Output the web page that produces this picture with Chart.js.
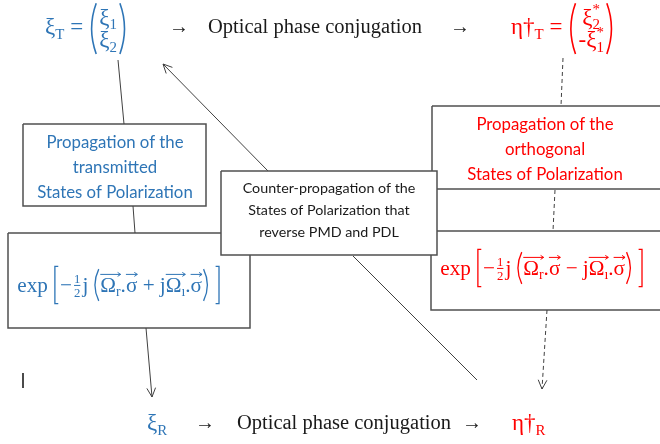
<!DOCTYPE html>
<html>
<head>
<meta charset="utf-8">
<script src="https://cdn.jsdelivr.net/npm/chart.js@4.4.0/dist/chart.umd.min.js"></script>
<style>
body { margin: 0; background: #fff; }
#wrap { width: 660px; height: 444px; }
</style>
</head>
<body>
<div id="wrap"><canvas id="mycanvas" width="660" height="444"></canvas></div>
<script>
var blue = "#2e75b6";
var red = "#ff0000";
var ink = "#1a1a1a";

// boxes as [left, top, right, bottom] in diagram units (0..660 x 0..444)
var boxLeft = [23, 124, 206, 206];
var boxLeftExp = [8, 233, 250, 328];
var boxRight = [432, 106, 672, 189];
var boxRightExp = [431, 231, 672, 310];
var boxCenter = [221, 171, 437, 255];

// connectors as [x1, y1, x2, y2]
var solidLinks = [[118, 60, 124, 124], [133, 206, 135, 233], [353, 256, 477, 380]];
var solidArrows = [[146, 328, 152, 397], [268, 171, 163, 64]];
var dashedLinks = [[563, 58, 561, 106], [555, 190, 553, 231]];
var dashedArrows = [[547, 310, 542, 389]];
var cursorMark = [[23, 373, 23, 388]];

// texts
var titleLeft = ["Propagation of the", "transmitted", "States of Polarization"];
var titleRight = ["Propagation of the", "orthogonal", "States of Polarization"];
var titleCenter = ["Counter-propagation of the", "States of Polarization that", "reverse PMD and PDL"];
var flowLabel = "Optical phase conjugation";
var arrowSign = "\u2192";

var vecTop = [{t: "\u03BE", sub: "T"}, {t: " = "},
  {col: [[{t: "\u03BE", sub: "1"}], [{t: "\u03BE", sub: "2"}]]}];
var conjTop = [{t: "\u03B7\u2020", sub: "T"}, {t: " = "},
  {col: [[{t: "\u03BE", sub: "2", sup: "*"}], [{t: "-\u03BE", sub: "1", sup: "*"}]]}];
var vecBottom = [{t: "\u03BE", sub: "R"}];
var conjBottom = [{t: "\u03B7\u2020", sub: "R"}];

var formulaLeft = [{t: "exp"}, {gap: 0.25}, {br: "["}, {t: "\u2212"}, {frac: ["1", "2"]}, {t: "j"}, {gap: 0.2},
  {paren: "("}, {vec: "\u03A9", sub: "r"}, {t: "."}, {vec: "\u03C3"}, {t: " + j"}, {vec: "\u03A9", sub: "\u0131"},
  {t: "."}, {vec: "\u03C3"}, {paren: ")"}, {gap: 0.2}, {br: "]"}];
var formulaRight = [{t: "exp"}, {gap: 0.25}, {br: "["}, {t: "\u2212"}, {frac: ["1", "2"]}, {t: "j"}, {gap: 0.2},
  {paren: "("}, {vec: "\u03A9", sub: "r"}, {t: "."}, {vec: "\u03C3"}, {t: " \u2212 j"}, {vec: "\u03A9", sub: "\u0131"},
  {t: "."}, {vec: "\u03C3"}, {paren: ")"}, {gap: 0.2}, {br: "]"}];

function serif(size) { return size + "px 'Liberation Serif', 'DejaVu Serif', serif"; }
function sans(size) { return size + "px Lato, 'Open Sans', sans-serif"; }

function pts(seg) { return [{x: seg[0], y: seg[1]}, {x: seg[2], y: seg[3]}]; }
function boxPts(b) {
  return [{x: b[0], y: b[1]}, {x: b[2], y: b[1]}, {x: b[2], y: b[3]}, {x: b[0], y: b[3]}, {x: b[0], y: b[1]}];
}

var datasets = [];
function addBox(b, order) {
  datasets.push({data: boxPts(b), showLine: true, fill: "shape", backgroundColor: "#fff",
    borderColor: "#505050", borderWidth: 1.5, pointRadius: 0, order: order});
}
function addLines(list, dashed, arrow, color, width) {
  for (var i = 0; i < list.length; i++) {
    datasets.push({data: pts(list[i]), showLine: true, fill: false, borderColor: color,
      borderWidth: width, borderDash: dashed ? [4, 3] : [], pointRadius: 0, order: 1, arrow: arrow});
  }
}
addBox(boxRight, 3);
addBox(boxRightExp, 3);
addBox(boxLeft, 3);
addBox(boxLeftExp, 3);
addLines(solidLinks, false, false, "#404040", 1);
addLines(solidArrows, false, true, "#404040", 1);
addLines(dashedLinks, true, false, "#404040", 1);
addLines(dashedArrows, true, true, "#404040", 1);
addLines(cursorMark, false, false, "#111", 1.5);
addBox(boxCenter, 0);

// ---- math drawing ----
function tw(ctx, txt, size) { ctx.font = serif(size); return ctx.measureText(txt).width; }

function tokWidth(ctx, tok, s) {
  if (tok.gap) return tok.gap * s;
  if (tok.br) return 0.32 * s;
  if (tok.paren) return 0.36 * s;
  if (tok.frac) return Math.max(tw(ctx, tok.frac[0], s * 0.6), tw(ctx, tok.frac[1], s * 0.6)) + 0.2 * s;
  if (tok.col) {
    var m = 0;
    for (var r = 0; r < tok.col.length; r++) m = Math.max(m, rowWidth(ctx, tok.col[r], s));
    return m + 0.9 * s;
  }
  var main = tok.vec || tok.t;
  var w = tw(ctx, main, s);
  var ws = 0;
  if (tok.sub) ws = tw(ctx, tok.sub, s * 0.65);
  if (tok.sup) ws = Math.max(ws, tw(ctx, tok.sup, s * 0.65));
  return w + ws;
}
function rowWidth(ctx, toks, s) {
  var w = 0;
  for (var i = 0; i < toks.length; i++) w += tokWidth(ctx, toks[i], s);
  return w;
}
function drawParen(ctx, x, w, cy, h, open) {
  ctx.beginPath();
  var xo = open ? x + w * 0.8 : x + w * 0.2;
  var xi = open ? x + w * 0.1 : x + w * 0.9;
  ctx.moveTo(xo, cy - h / 2);
  ctx.quadraticCurveTo(xi - (open ? w * 0.3 : -w * 0.3), cy, xo, cy + h / 2);
  ctx.stroke();
}
function drawRow(ctx, toks, x, cy, s, color) {
  var base = cy + 0.32 * s;
  ctx.fillStyle = color;
  ctx.strokeStyle = color;
  ctx.textAlign = "left";
  ctx.textBaseline = "alphabetic";
  for (var i = 0; i < toks.length; i++) {
    var tok = toks[i];
    var w = tokWidth(ctx, tok, s);
    if (tok.gap) {
      // just spacing
    } else if (tok.br) {
      var h = 1.75 * s;
      ctx.lineWidth = 1.3;
      ctx.beginPath();
      if (tok.br === "[") {
        ctx.moveTo(x + w * 0.75, cy - h / 2); ctx.lineTo(x + w * 0.25, cy - h / 2);
        ctx.lineTo(x + w * 0.25, cy + h / 2); ctx.lineTo(x + w * 0.75, cy + h / 2);
      } else {
        ctx.moveTo(x + w * 0.25, cy - h / 2); ctx.lineTo(x + w * 0.75, cy - h / 2);
        ctx.lineTo(x + w * 0.75, cy + h / 2); ctx.lineTo(x + w * 0.25, cy + h / 2);
      }
      ctx.stroke();
    } else if (tok.paren) {
      ctx.lineWidth = 1.3;
      drawParen(ctx, x, w, cy, 1.5 * s, tok.paren === "(");
    } else if (tok.frac) {
      ctx.font = serif(s * 0.6);
      ctx.textAlign = "center";
      ctx.fillText(tok.frac[0], x + w / 2, cy - 0.08 * s);
      ctx.fillText(tok.frac[1], x + w / 2, cy + 0.58 * s);
      ctx.lineWidth = 1;
      ctx.beginPath();
      ctx.moveTo(x + 0.1 * s, cy + 0.02 * s); ctx.lineTo(x + w - 0.1 * s, cy + 0.02 * s);
      ctx.stroke();
      ctx.textAlign = "left";
    } else if (tok.col) {
      var pc = cy + 0.07 * s;
      var ph = 2.2 * s;
      ctx.lineWidth = 1.6;
      drawParen(ctx, x, 0.4 * s, pc, ph, true);
      drawParen(ctx, x + w - 0.4 * s, 0.4 * s, pc, ph, false);
      var inner = w - 0.9 * s;
      for (var r = 0; r < tok.col.length; r++) {
        var rw = rowWidth(ctx, tok.col[r], s);
        var ry = cy + (r === 0 ? -0.42 : 0.55) * s;
        drawRow(ctx, tok.col[r], x + 0.45 * s + (inner - rw) / 2, ry, s, color);
      }
    } else {
      var main = tok.vec || tok.t;
      ctx.font = serif(s);
      ctx.fillText(main, x, base);
      var mw = ctx.measureText(main).width;
      ctx.font = serif(s * 0.65);
      if (tok.sub) ctx.fillText(tok.sub, x + mw, base + 0.2 * s);
      if (tok.sup) ctx.fillText(tok.sup, x + mw, base - 0.45 * s);
      if (tok.vec) {
        var ay = base - 0.82 * s;
        ctx.lineWidth = 1;
        ctx.beginPath();
        ctx.moveTo(x, ay); ctx.lineTo(x + w, ay);
        ctx.moveTo(x + w - 3, ay - 2); ctx.lineTo(x + w, ay); ctx.lineTo(x + w - 3, ay + 2);
        ctx.stroke();
      }
    }
    x += w;
  }
}
function drawMath(ctx, toks, cx, cy, s, color, align) {
  var w = rowWidth(ctx, toks, s);
  var x = align === "left" ? cx : cx - w / 2;
  drawRow(ctx, toks, x, cy, s, color);
}

var diagramText = {
  id: "diagramText",
  afterDatasetsDraw: function(chart) {
    var ctx = chart.ctx;
    var sx = chart.scales.x, sy = chart.scales.y;
    function X(v) { return sx.getPixelForValue(v); }
    function Y(v) { return sy.getPixelForValue(v); }
    ctx.save();

    // arrow heads on flagged connectors
    chart.data.datasets.forEach(function(ds, i) {
      if (!ds.arrow) return;
      var p = chart.getDatasetMeta(i).data;
      var a = p[p.length - 2], b = p[p.length - 1];
      var ang = Math.atan2(b.y - a.y, b.x - a.x);
      ctx.strokeStyle = ds.borderColor;
      ctx.lineWidth = 1;
      ctx.setLineDash([]);
      ctx.beginPath();
      ctx.moveTo(b.x - 10 * Math.cos(ang - 0.45), b.y - 10 * Math.sin(ang - 0.45));
      ctx.lineTo(b.x, b.y);
      ctx.lineTo(b.x - 10 * Math.cos(ang + 0.45), b.y - 10 * Math.sin(ang + 0.45));
      ctx.stroke();
    });

    // box captions
    ctx.textAlign = "center";
    ctx.textBaseline = "middle";
    ctx.font = sans(16.8);
    ctx.fillStyle = blue;
    titleLeft.forEach(function(t, i) { ctx.fillText(t, X(115), Y(143 + i * 25)); });
    ctx.fillStyle = red;
    titleRight.forEach(function(t, i) { ctx.fillText(t, X(545), Y(125 + i * 25)); });
    ctx.font = sans(14.3);
    ctx.fillStyle = ink;
    titleCenter.forEach(function(t, i) { ctx.fillText(t, X(329), Y(188 + i * 22)); });

    // flow rows
    ctx.font = serif(20.5);
    ctx.fillStyle = ink;
    ctx.fillText(flowLabel, X(315), Y(28));
    ctx.fillText(flowLabel, X(344), Y(424));
    ctx.font = serif(20);
    ctx.fillText(arrowSign, X(179), Y(28));
    ctx.fillText(arrowSign, X(460), Y(28));
    ctx.fillText(arrowSign, X(205), Y(424));
    ctx.fillText(arrowSign, X(472), Y(424));

    drawMath(ctx, vecTop, X(45), Y(27), 23, blue, "left");
    drawMath(ctx, conjTop, X(511), Y(27), 23, red, "left");
    drawMath(ctx, vecBottom, X(147), Y(423), 23, blue, "left");
    drawMath(ctx, conjBottom, X(512), Y(423), 23, red, "left");
    drawMath(ctx, formulaLeft, X(119), Y(285), 21.2, blue);
    drawMath(ctx, formulaRight, X(542), Y(268), 21.2, red);
    ctx.restore();
  }
};

var ctx = document.getElementById("mycanvas");
var diagram = new Chart(ctx, {
  type: "scatter",
  data: {datasets: datasets},
  options: {
    responsive: false,
    animation: false,
    events: [],
    layout: {padding: 0},
    elements: {line: {tension: 0}},
    plugins: {legend: {display: false}, tooltip: {enabled: false}},
    scales: {
      x: {type: "linear", min: 0, max: 660, display: false},
      y: {type: "linear", min: 0, max: 444, reverse: true, display: false}
    }
  },
  plugins: [diagramText]
});
</script>
</body>
</html>
